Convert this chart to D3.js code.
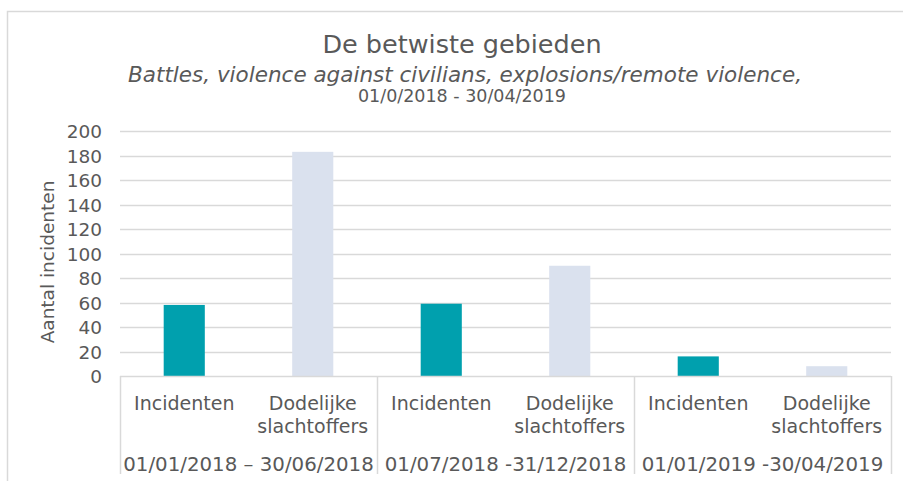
<!DOCTYPE html>
<html>
<head>
<meta charset="utf-8">
<script src="https://cdn.jsdelivr.net/npm/d3@7"></script>
<style>
  html, body { margin: 0; padding: 0; background: #fff; }
  svg text { font-family: "DejaVu Sans", Verdana, sans-serif; fill: #595959; }
</style>
</head>
<body>
<svg id="chart" width="903" height="481"></svg>
<script>
const periods = ["01/01/2018 \u2013 30/06/2018", "01/07/2018 -31/12/2018", "01/01/2019 -30/04/2019"];
const measures = ["Incidenten", "Dodelijke slachtoffers"];
const incidenten = [58, 59, 16];
const slachtoffers = [183, 90, 8];
const yTicks = [0, 20, 40, 60, 80, 100, 120, 140, 160, 180, 200];
const measureColors = ["#00A0AE", "#DAE1EE"];

const title = "De betwiste gebieden";
const subtitle = "Battles, violence against civilians, explosions/remote violence,";
const dateLine = "01/0/2018 - 30/04/2019";
const yTitle = "Aantal incidenten";

const rows = [];
periods.forEach((p, i) => {
  rows.push({ period: p, pi: i, measure: measures[0], mi: 0, value: incidenten[i] });
  rows.push({ period: p, pi: i, measure: measures[1], mi: 1, value: slachtoffers[i] });
});

const svg = d3.select("#chart");
const plotL = 120, plotR = 891, plotT = 131, plotB = 376;
const grey = "#d9d9d9";

// outer border
svg.append("rect").attr("x", 7.5).attr("y", 11.5).attr("width", 1000).attr("height", 1000)
  .attr("fill", "none").attr("stroke", grey).attr("stroke-width", 1.5);

const y = d3.scaleLinear().domain([0, 200]).range([plotB, plotT]);
const xGroup = d3.scaleBand().domain(d3.range(periods.length)).range([plotL, plotR]);
const xInner = d3.scaleBand().domain(d3.range(measures.length)).range([0, xGroup.bandwidth()]);
const barW = xInner.bandwidth() * 0.32;

// gridlines
svg.append("g").selectAll("line").data(yTicks.filter(t => t > 0)).join("line")
  .attr("x1", plotL).attr("x2", plotR)
  .attr("y1", d => Math.round(y(d)) + 0.5).attr("y2", d => Math.round(y(d)) + 0.5)
  .attr("stroke", grey).attr("stroke-width", 1.3);

// y axis labels
const yAxis = d3.axisLeft(y).tickValues(yTicks).tickSize(0).tickPadding(0);
const ya = svg.append("g").attr("transform", `translate(102,0)`).call(yAxis);
ya.select(".domain").remove();
ya.selectAll("text").style("font-size", "18.5px").attr("fill", "#595959")
  .style("font-family", "DejaVu Sans, Verdana, sans-serif").attr("dy", "0.36em");

// bars
svg.append("g").selectAll("rect").data(rows).join("rect")
  .attr("x", d => xGroup(d.pi) + xInner(d.mi) + (xInner.bandwidth() - barW) / 2)
  .attr("width", barW)
  .attr("y", d => y(d.value))
  .attr("height", d => y(0) - y(d.value))
  .attr("fill", d => measureColors[d.mi]);

// x axis baseline
svg.append("line").attr("x1", plotL).attr("x2", plotR)
  .attr("y1", plotB + 0.5).attr("y2", plotB + 0.5).attr("stroke", grey).attr("stroke-width", 1.5);

// group separators
const seps = d3.range(periods.length + 1).map(i => i < periods.length ? xGroup(i) : plotR);
svg.append("g").selectAll("line").data(seps).join("line")
  .attr("x1", d => Math.round(d) + 0.5).attr("x2", d => Math.round(d) + 0.5)
  .attr("y1", plotB).attr("y2", 474).attr("stroke", grey).attr("stroke-width", 1.5);

// measure labels
const ml = svg.append("g").selectAll("text").data(rows).join("text")
  .attr("text-anchor", "middle")
  .attr("x", d => xGroup(d.pi) + xInner(d.mi) + xInner.bandwidth() / 2)
  .attr("y", 410)
  .style("font-size", "19px");
ml.each(function(d) {
  const words = d.measure.split(" ");
  const t = d3.select(this);
  words.forEach((w, k) => {
    t.append("tspan").attr("x", t.attr("x")).attr("dy", k === 0 ? 0 : 23).text(w);
  });
});

// period labels
svg.append("g").selectAll("text").data(periods).join("text")
  .attr("text-anchor", "middle")
  .attr("x", (d, i) => xGroup(i) + xGroup.bandwidth() / 2)
  .attr("y", 471)
  .style("font-size", "19.8px")
  .text(d => d);

// titles
svg.append("text").attr("x", 462).attr("y", 53).attr("text-anchor", "middle")
  .style("font-size", "25.5px").text(title);
svg.append("text").attr("x", 465).attr("y", 82).attr("text-anchor", "middle")
  .style("font-size", "21.5px").style("font-style", "italic").text(subtitle);
svg.append("text").attr("x", 462).attr("y", 102).attr("text-anchor", "middle")
  .style("font-size", "17.5px").text(dateLine);

// y title
svg.append("text").attr("transform", "translate(54,262) rotate(-90)")
  .attr("text-anchor", "middle").style("font-size", "18.5px").text(yTitle);
</script>
</body>
</html>
